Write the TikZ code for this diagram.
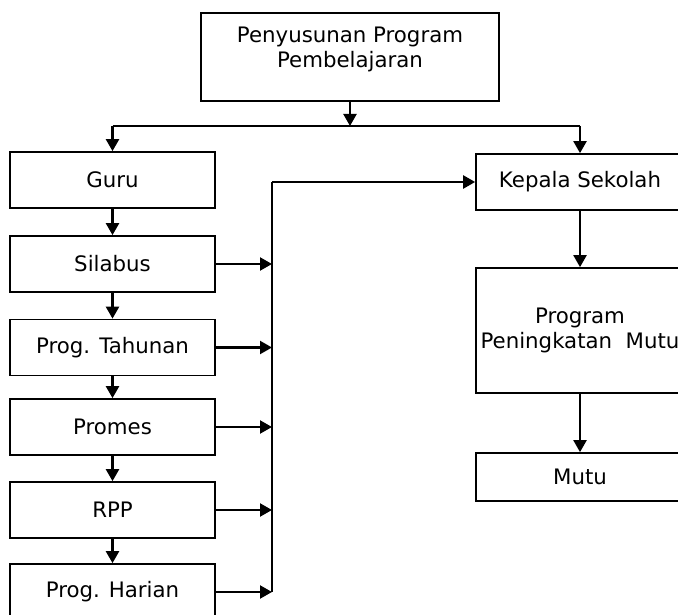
\documentclass[tikz,border=0pt]{standalone}
\usepackage{fontspec}
\setmainfont{DejaVu Sans}
\usetikzlibrary{arrows.meta}
\begin{document}
\begin{tikzpicture}[x=1pt,y=-1pt,
                    box/.style = {draw,line width=1.7pt,minimum width=205pt,minimum height=56pt,
                                  inner sep=0pt,align=center,font=\fontsize{21.3}{25}\selectfont},
                    line/.style = {line width=2.2pt},
                    arrow/.style = {line width=2.2pt,-{Triangle[length=12pt,width=13pt]}}]
                    \clip (0,0) rectangle (678,615);
                    
                    \node[box,minimum width=298pt,minimum height=88pt,text depth=19pt] (ppp) at (350,57) {Penyusunan Program\\Pembelajaran};
                    
                    \node[box] (guru) at (112.5,180) {Guru};
                    \node[box] (silabus) at (112.5,264) {Silabus};
                    \node[box] (tahunan) at (112.5,347.5) {Prog. Tahunan};
                    \node[box] (promes) at (112.5,427) {Promes};
                    \node[box] (rpp) at (112.5,510) {RPP};
                    \node[box] (harian) at (112.5,592) {Prog. Harian};
                    
                    \node[box,minimum width=208pt] (kepsek) at (580,182) {Kepala Sekolah};
                    \node[box,minimum width=208pt,minimum height=125pt] (ppm) at (580,330.5) {Program\\Peningkatan\ \ Mutu};
                    \node[box,minimum width=208pt,minimum height=48pt] (mutu) at (580,477) {Mutu};
                    
                    \coordinate (split) at (350,126);
                    \coordinate (bus) at (272,182);
                    
                    \draw[arrow] (ppp.south) -- (split);
                    \draw[line] (guru.north |- split) -- (kepsek.north |- split);
                    \draw[arrow] (guru.north |- split) -- (guru.north);
                    \draw[arrow] (kepsek.north |- split) -- (kepsek.north);
                    
                    \draw[arrow] (guru) -- (silabus);
                    \draw[arrow] (silabus) -- (tahunan);
                    \draw[arrow] (tahunan) -- (promes);
                    \draw[arrow] (promes) -- (rpp);
                    \draw[arrow] (rpp) -- (harian);
                    
                    \draw[line width=2.8pt] (bus) -- (bus |- harian.east);
                    \foreach \n in {silabus,tahunan,promes,rpp,harian}
                        \draw[arrow] (\n.east) -- (\n.east -| bus);
                    \draw[arrow] (bus) -- (kepsek.west);
                    
                    \draw[arrow] (kepsek) -- (ppm);
                    \draw[arrow] (ppm) -- (mutu);
                \end{tikzpicture}
\end{document}
